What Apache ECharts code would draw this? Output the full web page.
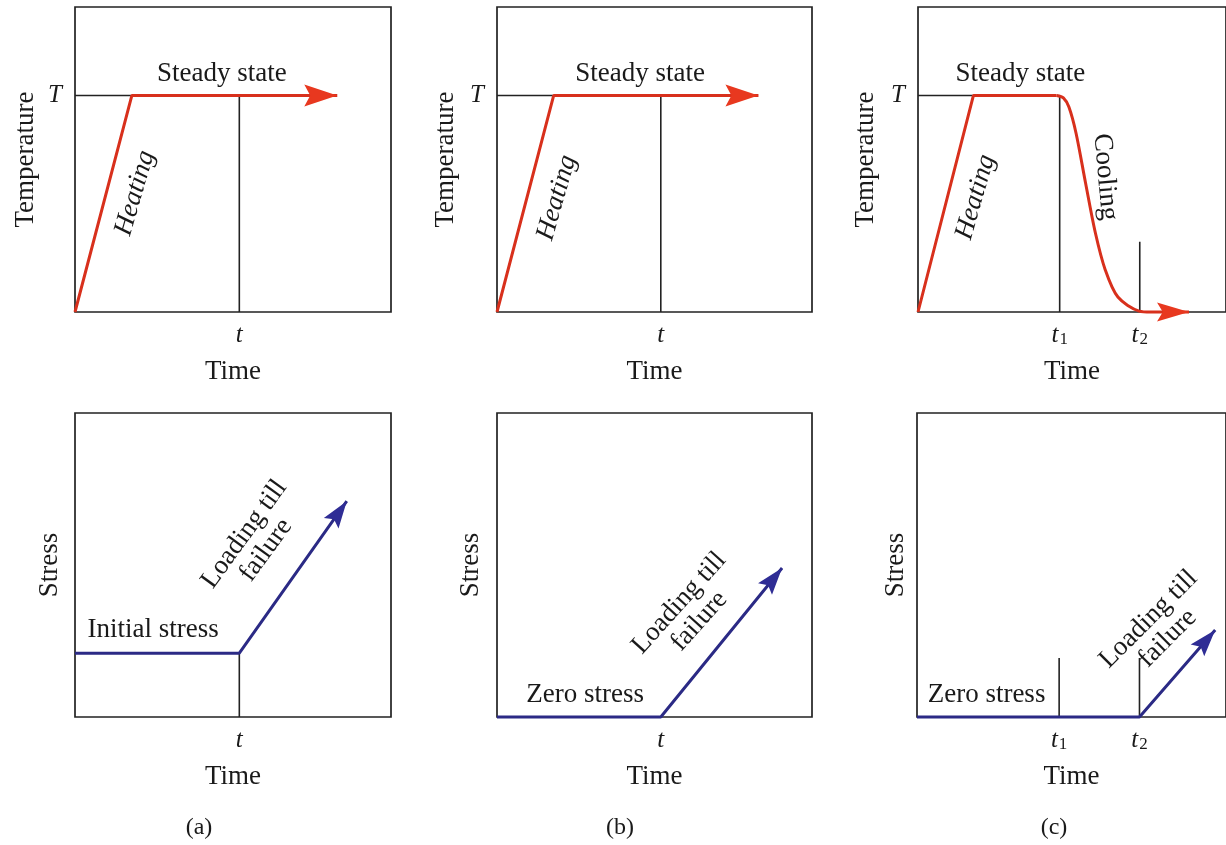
<!DOCTYPE html>
<html>
<head>
<meta charset="utf-8">
<title>Heating and loading histories</title>
<script src="https://cdn.jsdelivr.net/npm/echarts@6/dist/echarts.min.js"></script>
<style>
  html, body { margin: 0; padding: 0; background: #ffffff; }
  #chart { width: 1226px; height: 845px; }
</style>
</head>
<body>
<div id="chart"></div>
<script>
// ---- Values (time and level on a 0–100 schematic scale) ----
const tempLevel = 71;                 // steady-state temperature T
const tempPathA = [[0, 0], [18, 71], [83, 71]];
const tempPathB = [[0, 0], [18, 71], [83, 71]];
const tempPathC = [[0, 0], [18, 71], [45, 71]];
const coolPathC = [[45, 71], [47.2, 70.2], [49, 67.2], [51.3, 58.7], [54.4, 42.3], [57.6, 25.9],
                   [60.8, 13.8], [64.9, 4.9], [71.8, 0.3], [75.6, 0], [88, 0]];
const stressPathA = [[0, 21], [52, 21], [86, 71]];
const stressPathB = [[0, 0], [52, 0], [90.5, 49]];
const stressPathC = [[0, 0], [72, 0], [96.5, 28.6]];

// vertical time markers: [time, height]
const markersTopA = [[52, 71]];
const markersTopB = [[52, 71]];
const markersTopC = [[46, 71], [72, 23]];
const markersBotA = [[52, 21]];
const markersBotB = [];
const markersBotC = [[46, 19.4], [72, 19.4]];

// tick labels
const timeTicksAB = [52];
const timeTickLabelsAB = ['{i|t}'];
const timeTicksC = [46, 72];
const timeTickLabelsC = ['{i|t}{s|1}', '{i|t}{s|2}'];
const tempTicks = [71];
const tempTickLabels = ['T'];

// annotation texts: [x, y, text]
const notesTopA = [[46.5, 78, 'Steady state'], [19, 39, 'Heating']];
const notesTopB = [[45.4, 78, 'Steady state'], [19, 37.5, 'Heating']];
const notesTopC = [[33.2, 78, 'Steady state'], [18.7, 37.7, 'Heating'], [60.8, 44.3, 'Cooling']];
const notesBotA = [[24.7, 28.6, 'Initial stress'], [57, 57.5, 'Loading till\nfailure']];
const notesBotB = [[28, 7.2, 'Zero stress'], [61, 34.5, 'Loading till\nfailure']];
const notesBotC = [[22.5, 7.2, 'Zero stress'], [78, 29, 'Loading till\nfailure']];

const captions = ['(a)', '(b)', '(c)'];
const axisNameTime = 'Time';
const axisNameTemp = 'Temperature';
const axisNameStress = 'Stress';

// ---- Styles ----
const FONT = '"Liberation Serif", "Times New Roman", serif';
const TXT = '#1a1a1a';
const RED = '#d8301c';
const RED_HEAD = '#e8381f';
const BLUE = '#2b2a85';
const BLUE_HEAD = '#2f2d95';
const FS = 27;

const noteStyle = {
  'Steady state': { rotate: 0, italic: false },
  'Heating': { rotate: 74, italic: true },
  'Cooling': { rotate: -85, italic: false },
  'Initial stress': { rotate: 0, italic: false },
  'Zero stress': { rotate: 0, italic: false }
};
const loadRotate = [54, 48, 45];

// ---- Layout ----
const gridsLayout = [
  { left: 75, top: 7, width: 316, height: 305 },
  { left: 497, top: 7, width: 315, height: 305 },
  { left: 918, top: 7, width: 316, height: 305 },
  { left: 75, top: 413, width: 316, height: 304 },
  { left: 497, top: 413, width: 315, height: 304 },
  { left: 917, top: 413, width: 316, height: 304 }
];
const yNameGap = [36, 38, 39, 12, 13, 8];
const captionPos = [[199, 828], [620, 828], [1054, 828]];

const grids = gridsLayout.map(g => Object.assign({
  show: true, borderColor: '#222222', borderWidth: 1.7, backgroundColor: 'transparent',
  containLabel: false
}, g));

const richTick = {
  i: { fontFamily: FONT, fontSize: FS - 2, fontStyle: 'italic', color: TXT, lineHeight: 26 },
  s: { fontFamily: FONT, fontSize: 17, color: TXT, lineHeight: 10, verticalAlign: 'bottom', padding: [0, 0, 0, 1] }
};

function xAxisFor(idx, ticks, labels) {
  return {
    type: 'value', gridIndex: idx, min: 0, max: 100,
    axisLine: { show: false }, axisTick: { show: false }, splitLine: { show: false },
    axisLabel: {
      show: ticks.length > 0,
      customValues: ticks,
      margin: 10,
      formatter: v => labels[ticks.indexOf(v)] || '',
      rich: richTick
    },
    name: axisNameTime, nameLocation: 'middle', nameGap: 46,
    nameTextStyle: { fontFamily: FONT, fontSize: FS, color: TXT }
  };
}

function yAxisFor(idx, name, ticks, labels) {
  return {
    type: 'value', gridIndex: idx, min: 0, max: 100,
    axisLine: { show: false }, axisTick: { show: false }, splitLine: { show: false },
    axisLabel: {
      show: ticks.length > 0,
      customValues: ticks,
      margin: 13,
      formatter: v => labels[ticks.indexOf(v)] || '',
      fontFamily: FONT, fontSize: FS - 2, fontStyle: 'italic', color: TXT
    },
    name: name, nameLocation: 'middle', nameGap: yNameGap[idx], nameRotate: 90,
    nameTextStyle: { fontFamily: FONT, fontSize: FS, color: TXT }
  };
}

function pathSeries(idx, data, color, smooth) {
  return {
    type: 'line', xAxisIndex: idx, yAxisIndex: idx, data: data,
    symbol: 'none', showSymbol: false, smooth: smooth || false,
    lineStyle: { color: color, width: 3 }, clip: false, silent: true, z: 4
  };
}

function markerSeries(idx, markers) {
  return markers.map(m => ({
    type: 'line', xAxisIndex: idx, yAxisIndex: idx,
    data: [[m[0], 0], [m[0], m[1]]],
    symbol: 'none', showSymbol: false,
    lineStyle: { color: '#222222', width: 1.6 }, clip: false, silent: true, z: 3
  }));
}

// arrowhead placed at the last point of a path, aligned with its last segment
function arrowSeries(idx, path, color, len, width) {
  const a = path[path.length - 2], b = path[path.length - 1];
  return {
    type: 'custom', xAxisIndex: idx, yAxisIndex: idx, clip: false, silent: true, z: 6,
    data: [[a[0], a[1], b[0], b[1]]],
    encode: { x: [0, 2], y: [1, 3] },
    renderItem: function (params, api) {
      const p0 = api.coord([api.value(0), api.value(1)]);
      const p1 = api.coord([api.value(2), api.value(3)]);
      const dx = p1[0] - p0[0], dy = p1[1] - p0[1];
      const L = Math.hypot(dx, dy) || 1;
      const ux = dx / L, uy = dy / L, nx = -uy, ny = ux;
      const w = width / 2, notch = len * 0.18;
      const bx = p1[0] - ux * len, by = p1[1] - uy * len;
      return {
        type: 'polygon',
        shape: { points: [
          [p1[0], p1[1]],
          [bx + nx * w, by + ny * w],
          [bx + ux * notch, by + uy * notch],
          [bx - nx * w, by - ny * w]
        ] },
        style: { fill: color }
      };
    }
  };
}

function noteSeries(idx, notes, loadRot) {
  return {
    type: 'scatter', xAxisIndex: idx, yAxisIndex: idx, silent: true, z: 5,
    symbolSize: 1, itemStyle: { color: '#ffffff', opacity: 1 },
    data: notes.map(n => {
      const st = noteStyle[n[2]] || { rotate: loadRot, italic: false };
      return {
        value: [n[0], n[1]],
        label: {
          show: true, position: 'inside', formatter: n[2], rotate: st.rotate,
          fontFamily: FONT, fontSize: FS, color: TXT, lineHeight: 27, align: 'center',
          verticalAlign: 'middle', fontStyle: st.italic ? 'italic' : 'normal',
          textBorderWidth: 0, textBorderColor: 'transparent', opacity: 1
        }
      };
    })
  };
}

const series = [].concat(
  markerSeries(0, markersTopA), markerSeries(1, markersTopB), markerSeries(2, markersTopC),
  markerSeries(3, markersBotA), markerSeries(4, markersBotB), markerSeries(5, markersBotC),
  // T reference lines from the axis to the heating curve
  [0, 1, 2].map(i => ({
    type: 'line', xAxisIndex: i, yAxisIndex: i, data: [[0, tempLevel], [18, tempLevel]],
    symbol: 'none', lineStyle: { color: '#222222', width: 1.6 }, clip: false, silent: true, z: 3
  })),
  [pathSeries(0, tempPathA, RED), pathSeries(1, tempPathB, RED), pathSeries(2, tempPathC, RED),
   pathSeries(2, coolPathC, RED, 0.3),
   pathSeries(3, stressPathA, BLUE), pathSeries(4, stressPathB, BLUE), pathSeries(5, stressPathC, BLUE)],
  [arrowSeries(0, tempPathA, RED_HEAD, 33, 22), arrowSeries(1, tempPathB, RED_HEAD, 33, 22),
   arrowSeries(2, coolPathC, RED_HEAD, 32, 19),
   arrowSeries(3, stressPathA, BLUE_HEAD, 27, 18), arrowSeries(4, stressPathB, BLUE_HEAD, 27, 18),
   arrowSeries(5, stressPathC, BLUE_HEAD, 27, 18)],
  [noteSeries(0, notesTopA), noteSeries(1, notesTopB), noteSeries(2, notesTopC),
   noteSeries(3, notesBotA, loadRotate[0]), noteSeries(4, notesBotB, loadRotate[1]),
   noteSeries(5, notesBotC, loadRotate[2])]
);

const chart = echarts.init(document.getElementById('chart'), null, { renderer: 'canvas' });
chart.setOption({
  animation: false,
  backgroundColor: '#ffffff',
  grid: grids,
  xAxis: [
    xAxisFor(0, timeTicksAB, timeTickLabelsAB), xAxisFor(1, timeTicksAB, timeTickLabelsAB),
    xAxisFor(2, timeTicksC, timeTickLabelsC),
    xAxisFor(3, timeTicksAB, timeTickLabelsAB), xAxisFor(4, timeTicksAB, timeTickLabelsAB),
    xAxisFor(5, timeTicksC, timeTickLabelsC)
  ],
  yAxis: [
    yAxisFor(0, axisNameTemp, tempTicks, tempTickLabels),
    yAxisFor(1, axisNameTemp, tempTicks, tempTickLabels),
    yAxisFor(2, axisNameTemp, tempTicks, tempTickLabels),
    yAxisFor(3, axisNameStress, [], []),
    yAxisFor(4, axisNameStress, [], []),
    yAxisFor(5, axisNameStress, [], [])
  ],
  graphic: captions.map((c, i) => ({
    type: 'text', x: captionPos[i][0], y: captionPos[i][1], silent: true,
    style: { text: c, fontFamily: FONT, fontSize: 24, fill: TXT, align: 'center', verticalAlign: 'middle' }
  })),
  series: series
});
</script>
</body>
</html>
